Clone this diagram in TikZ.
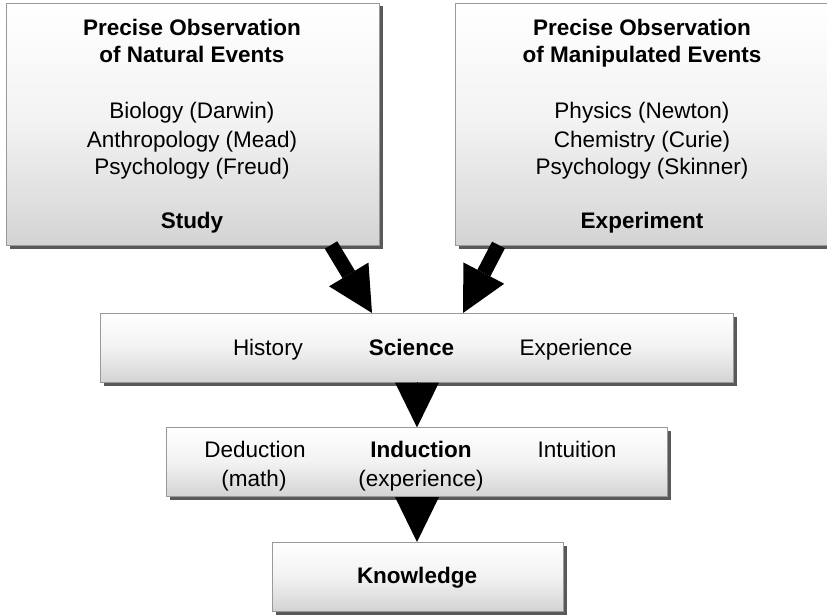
\documentclass[tikz,border=0pt]{standalone}
\usepackage{fontspec}
\setmainfont{Liberation Sans}
\usetikzlibrary{arrows.meta,shadows}
\begin{document}
\begin{tikzpicture}[x=1pt,y=1pt,
  box/.style={draw=black!40, line width=0.8pt, inner sep=0pt, outer sep=0pt,
    top color=white, bottom color=black!17, middle color=black!5,
    drop shadow={shadow xshift=3.5pt, shadow yshift=-3.5pt, fill=black!65, opacity=1}},
  txt/.style={inner sep=0pt, anchor=base, font=\fontsize{22.5}{27}\selectfont},
  btxt/.style={txt, font=\fontsize{22.5}{27}\selectfont\bfseries},
  bigarrow/.style={line width=14.5pt, -{Triangle[width=46pt,length=45pt,line width=0pt]}},
  tri/.style={line width=0.1pt, -{Triangle[width=44pt,length=45pt,line width=0pt]}}
]
\useasboundingbox (0,0) rectangle (827,-615);
% boxes
\node[box, minimum width=373pt, minimum height=242pt] (s1) at (192.5,-124) {};
\node[box, minimum width=374pt, minimum height=242pt] (s2) at (642,-124) {};
\node[box, minimum width=633pt, minimum height=69pt] (sci) at (417,-347.5) {};
\node[box, minimum width=501pt, minimum height=69pt] (ind) at (417.3,-462) {};
\node[box, minimum width=291pt, minimum height=69pt] (kn) at (417.5,-576.5) {};
% box 1 text
\node[btxt] (t11) at (192,-36) {Precise Observation};
\node[btxt] (t12) at (192,-63) {of Natural Events};
\node[txt] (t13) at (192,-119) {Biology (Darwin)};
\node[txt] (t14) at (192,-147) {Anthropology (Mead)};
\node[txt] (t15) at (192,-174) {Psychology (Freud)};
\node[btxt] (t16) at (192,-228) {Study};
% box 2 text
\node[btxt] (t21) at (642,-36) {Precise Observation};
\node[btxt] (t22) at (642,-63) {of Manipulated Events};
\node[txt] (t23) at (642,-119) {Physics (Newton)};
\node[txt] (t24) at (642,-147) {Chemistry (Curie)};
\node[txt] (t25) at (642,-174) {Psychology (Skinner)};
\node[btxt] (t26) at (642,-228) {Experiment};
% science
\node[txt] (hist) at (268,-355) {History};
\node[btxt] (scit) at (411.5,-355) {Science};
\node[txt] (expe) at (576,-355) {Experience};
% induction
\node[txt] (ded) at (255,-457) {Deduction};
\node[txt] (math) at (254,-486) {(math)};
\node[btxt] (indt) at (421,-457) {Induction};
\node[txt] (iexp) at (421,-486) {(experience)};
\node[txt] (intu) at (577,-457) {Intuition};
% knowledge
\node[btxt] (knt) at (417,-583) {Knowledge};
% arrows
\coordinate (a1s) at (331,-245);
\coordinate (a1t) at (372,-312);
\coordinate (a2s) at (498.5,-245);
\coordinate (a2t) at (463,-312);
\coordinate (mid) at (417,0);
\draw[bigarrow] (s1.south -| a1s) -- (sci.north -| a1t);
\draw[bigarrow] (s2.south -| a2s) -- (sci.north -| a2t);
\draw[tri] (sci.south -| mid) -- (ind.north -| mid);
\draw[tri] (ind.south -| mid) -- (kn.north -| mid);
\end{tikzpicture}
\end{document}
